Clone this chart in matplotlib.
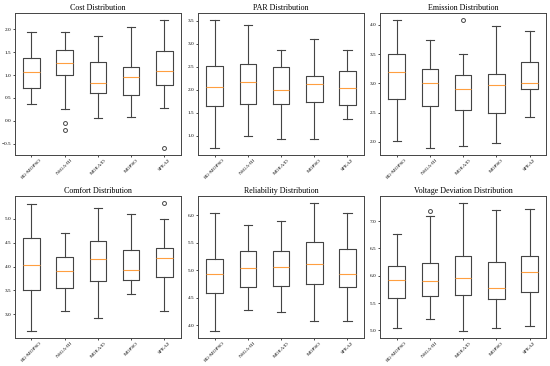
import matplotlib
matplotlib.use("Agg")
import matplotlib.pyplot as plt

plt.rcParams['font.family'] = ['Liberation Serif', 'DejaVu Serif']

algorithms = ["RG-MOPSO", "NSGA-III", "MOEA/D", "MOPSO", "SPEA2"]

# stats per metric: whislo, q1, med, q3, whishi for each algorithm
cost_whislo = [0.37, 0.27, 0.06, 0.09, 0.28]
cost_q1 = [0.71, 1.00, 0.60, 0.56, 0.78]
cost_med = [1.07, 1.26, 0.83, 0.96, 1.09]
cost_q3 = [1.38, 1.54, 1.28, 1.17, 1.53]
cost_whishi = [1.95, 1.93, 1.85, 2.04, 2.21]
cost_fliers = [[], [-0.04, -0.20], [], [], [-0.60]]

par_whislo = [0.72, 0.98, 0.92, 0.92, 1.35]
par_q1 = [1.64, 1.69, 1.69, 1.73, 1.66]
par_med = [2.05, 2.16, 1.99, 2.11, 2.03]
par_q3 = [2.52, 2.55, 2.50, 2.29, 2.41]
par_whishi = [3.52, 3.41, 2.86, 3.10, 2.87]
par_fliers = [[], [], [], [], []]

emis_whislo = [2.02, 1.89, 1.93, 1.98, 2.43]
emis_q1 = [2.74, 2.62, 2.54, 2.50, 2.91]
emis_med = [3.19, 3.00, 2.91, 2.97, 3.01]
emis_q3 = [3.50, 3.24, 3.15, 3.16, 3.37]
emis_whishi = [4.08, 3.74, 3.51, 3.98, 3.89]
emis_fliers = [[], [], [4.09], [], []]

comf_whislo = [2.64, 3.06, 2.93, 3.42, 3.06]
comf_q1 = [3.51, 3.54, 3.69, 3.71, 3.77]
comf_med = [4.04, 3.91, 4.16, 3.93, 4.18]
comf_q3 = [4.59, 4.20, 4.53, 4.34, 4.39]
comf_whishi = [5.31, 4.70, 5.23, 5.10, 5.00]
comf_fliers = [[], [], [], [], [5.34]]

rel_whislo = [3.89, 4.27, 4.25, 4.08, 4.08]
rel_q1 = [4.59, 4.69, 4.72, 4.75, 4.70]
rel_med = [4.94, 5.04, 5.06, 5.12, 4.93]
rel_q3 = [5.20, 5.35, 5.35, 5.52, 5.39]
rel_whishi = [6.04, 5.82, 5.90, 6.23, 6.04]
rel_fliers = [[], [], [], [], []]

volt_whislo = [5.04, 5.20, 4.98, 5.04, 5.08]
volt_q1 = [5.59, 5.63, 5.65, 5.58, 5.70]
volt_med = [5.93, 5.90, 5.96, 5.77, 6.07]
volt_q3 = [6.18, 6.24, 6.37, 6.26, 6.36]
volt_whishi = [6.77, 7.10, 7.34, 7.21, 7.22]
volt_fliers = [[], [7.18], [], [], []]

titles = ["Cost Distribution", "PAR Distribution", "Emission Distribution",
          "Comfort Distribution", "Reliability Distribution", "Voltage Deviation Distribution"]
metrics = [
    (cost_whislo, cost_q1, cost_med, cost_q3, cost_whishi, cost_fliers),
    (par_whislo, par_q1, par_med, par_q3, par_whishi, par_fliers),
    (emis_whislo, emis_q1, emis_med, emis_q3, emis_whishi, emis_fliers),
    (comf_whislo, comf_q1, comf_med, comf_q3, comf_whishi, comf_fliers),
    (rel_whislo, rel_q1, rel_med, rel_q3, rel_whishi, rel_fliers),
    (volt_whislo, volt_q1, volt_med, volt_q3, volt_whishi, volt_fliers),
]

fig = plt.figure(figsize=(5.5, 3.66), dpi=100)
lefts = [0.027, 0.36, 0.691]
bottoms = [0.577, 0.077]
w, h = 0.302, 0.387

lw = 0.8
ec = '#444444'
for i, (title, m) in enumerate(zip(titles, metrics)):
    r, c = divmod(i, 3)
    ax = fig.add_axes([lefts[c], bottoms[r], w, h])
    stats = []
    for j, name in enumerate(algorithms):
        stats.append(dict(label=name, whislo=m[0][j], q1=m[1][j], med=m[2][j],
                          q3=m[3][j], whishi=m[4][j], fliers=m[5][j]))
    ax.bxp(stats, widths=0.5,
           boxprops=dict(linewidth=lw, color=ec),
           whiskerprops=dict(linewidth=lw, color=ec),
           capprops=dict(linewidth=lw, color=ec),
           medianprops=dict(linewidth=lw, color='#ff9f40'),
           flierprops=dict(marker='o', markersize=2.8, markerfacecolor='none',
                           markeredgecolor=ec, markeredgewidth=0.7))
    ax.set_title(title, fontsize=5.8, pad=2)
    ax.tick_params(axis='y', labelsize=3.8, length=1.5, width=0.5, pad=1)
    ax.tick_params(axis='x', labelsize=3.8, length=1.5, width=0.5, pad=1)
    plt.setp(ax.get_xticklabels(), rotation=45, ha='center')
    for s in ax.spines.values():
        s.set_linewidth(0.7)
        s.set_color(ec)

fig.savefig("out.png", dpi=100)
